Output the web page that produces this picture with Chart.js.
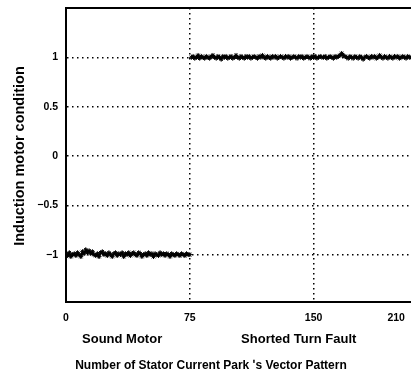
<!DOCTYPE html>
<html>
<head>
<meta charset="utf-8">
<script src="https://cdn.jsdelivr.net/npm/chart.js@4"></script>
<style>
  html, body { margin: 0; padding: 0; background: #fff; }
  #wrap { width: 411px; height: 376px; }
</style>
</head>
<body>
<div id="wrap"><canvas id="myChart" width="411" height="376"></canvas></div>
<script>
// tick values / labels
const xTickValues = [0, 75, 150, 200];
const xTickLabels = ["0", "75", "150", "210"];
const yTickValues = [-1, -0.5, 0, 0.5, 1];
const groupNames = ["Sound Motor", "Shorted Turn Fault"];
const xTitle = "Number of Stator Current Park \u02b9s Vector Pattern";
const yTitle = "Induction motor condition";

// sound motor patterns 0..75
const soundStart = 0;
const soundValues = [
  -0.99, -1.01, -0.98, -1.02, -1.00, -0.99, -1.01, -0.98, -1.00, -1.02,
  -0.97, -0.99, -0.95, -0.98, -0.96, -0.99, -0.97, -1.00, -1.01, -0.99,
  -1.02, -0.98, -0.97, -1.00, -0.99, -1.01, -0.98, -1.00, -1.02, -0.99,
  -0.98, -1.01, -0.99, -1.00, -0.98, -1.02, -0.99, -1.00, -0.98, -1.01,
  -0.99, -0.98, -1.00, -1.01, -0.98, -0.99, -1.02, -1.00, -0.99, -1.01,
  -0.98, -1.00, -0.99, -1.02, -0.99, -1.00, -1.01, -0.98, -1.00, -0.99,
  -1.01, -0.99, -1.00, -1.02, -0.99, -1.00, -1.01, -0.99, -1.00, -1.01,
  -0.99, -1.00, -1.01, -0.99, -1.00, -1.00
];

// shorted turn fault patterns 76..209
const faultStart = 76;
const faultValues = [
  1.00, 1.01, 0.99, 1.00, 1.02, 0.99, 1.01, 1.00, 0.99, 1.01,
  1.00, 0.99, 1.01, 1.02, 1.00, 0.99, 1.01, 1.00, 0.98, 1.01,
  1.00, 1.01, 0.99, 1.00, 1.01, 0.99, 1.00, 1.02, 1.00, 0.99,
  1.01, 1.00, 0.99, 1.01, 1.00, 1.01, 0.99, 1.00, 1.01, 1.00,
  0.99, 1.01, 1.00, 1.02, 1.00, 0.99, 1.01, 1.00, 0.99, 1.01,
  1.00, 1.01, 0.99, 1.00, 1.01, 1.00, 0.99, 1.01, 1.00, 1.01,
  0.99, 1.00, 1.01, 1.00, 0.99, 1.01, 1.00, 1.01, 0.99, 1.00,
  1.01, 1.00, 0.99, 1.01, 1.00, 1.01, 0.99, 1.00, 1.01, 1.00,
  1.00, 1.01, 0.99, 1.00, 1.01, 1.00, 0.99, 1.01, 1.00, 1.01,
  1.02, 1.04, 1.02, 1.01, 1.00, 0.99, 1.01, 1.00, 0.99, 1.01,
  1.00, 0.99, 1.01, 1.00, 0.98, 1.00, 1.01, 1.00, 0.99, 1.01,
  1.00, 1.01, 0.99, 1.00, 1.02, 1.00, 0.99, 1.01, 1.00, 0.99,
  1.01, 1.00, 0.99, 1.01, 1.00, 1.01, 0.99, 1.00, 1.01, 1.00,
  0.99, 1.01, 1.00, 1.00
];

const toPoints = (start, vals) => vals.map((v, i) => ({ x: start + i, y: v }));

const FONT = "Arial, 'Liberation Sans', sans-serif";

// top border, titles and the two group captions under the x ticks
const extras = {
  id: "extras",
  afterDraw(chart) {
    const { ctx, chartArea } = chart;
    const xs = chart.scales.x;
    ctx.save();
    ctx.strokeStyle = "#000";
    ctx.lineWidth = 2;
    ctx.beginPath();
    ctx.moveTo(chartArea.left - 1, chartArea.top);
    ctx.lineTo(chartArea.right, chartArea.top);
    ctx.stroke();

    ctx.fillStyle = "#000";
    ctx.textAlign = "center";
    ctx.textBaseline = "middle";
    ctx.font = "bold 13px " + FONT;
    ctx.fillText(groupNames[0], xs.getPixelForValue(34), 339);
    ctx.fillText(groupNames[1], xs.getPixelForValue(141), 339);

    ctx.font = "bold 12px " + FONT;
    ctx.fillText(xTitle, 211, 366);

    ctx.translate(20, 156);
    ctx.rotate(-Math.PI / 2);
    ctx.font = "bold 14.5px " + FONT;
    ctx.fillText(yTitle, 0, 0);
    ctx.restore();
  },
};

const series = (name, pts) => ({
  label: name,
  data: pts,
  borderColor: "#000",
  backgroundColor: "#000",
  borderWidth: 2,
  pointStyle: "star",
  pointRadius: 2.4,
  pointBorderWidth: 1,
  fill: false,
});

const ctx = document.getElementById("myChart").getContext("2d");
new Chart(ctx, {
  type: "line",
  data: {
    datasets: [
      series(groupNames[0], toPoints(soundStart, soundValues)),
      series(groupNames[1], toPoints(faultStart, faultValues)),
    ],
  },
  options: {
    responsive: false,
    animation: false,
    layout: { autoPadding: false, padding: { top: 8, right: 0, left: 0, bottom: 0 } },
    plugins: { legend: { display: false }, tooltip: { enabled: false } },
    scales: {
      x: {
        type: "linear",
        min: 0,
        max: 209,
        afterFit: (s) => {
          s.height = 74;
          s.paddingLeft = 0;
          s.paddingRight = 0;
        },
        afterBuildTicks: (s) => { s.ticks = xTickValues.map((v) => ({ value: v })); },
        ticks: {
          color: "#000",
          padding: 10,
          font: { family: FONT, size: 10.5, weight: "bold" },
          callback: (v) => xTickLabels[xTickValues.indexOf(v)],
        },
        grid: {
          drawTicks: false,
          color: (c) => (c.tick && (c.tick.value === 75 || c.tick.value === 150) ? "#000" : "rgba(0,0,0,0)"),
          lineWidth: 1.5,
        },
        border: { display: true, color: "#000", width: 2, dash: [1.5, 3.5] },
      },
      y: {
        min: -1.48,
        max: 1.5,
        afterFit: (s) => {
          s.width = 66;
          s.paddingTop = 0;
          s.paddingBottom = 0;
        },
        afterBuildTicks: (s) => { s.ticks = yTickValues.map((v) => ({ value: v })); },
        ticks: {
          color: "#000",
          padding: 8,
          font: { family: FONT, size: 10.5, weight: "bold" },
          callback: (v) => (v < 0 ? "\u2212" + Math.abs(v) : String(v)),
        },
        grid: { drawTicks: false, color: "#000", lineWidth: 1.5 },
        border: { display: true, color: "#000", width: 2, dash: [1.5, 3.5] },
      },
    },
  },
  plugins: [extras],
});
</script>
</body>
</html>
